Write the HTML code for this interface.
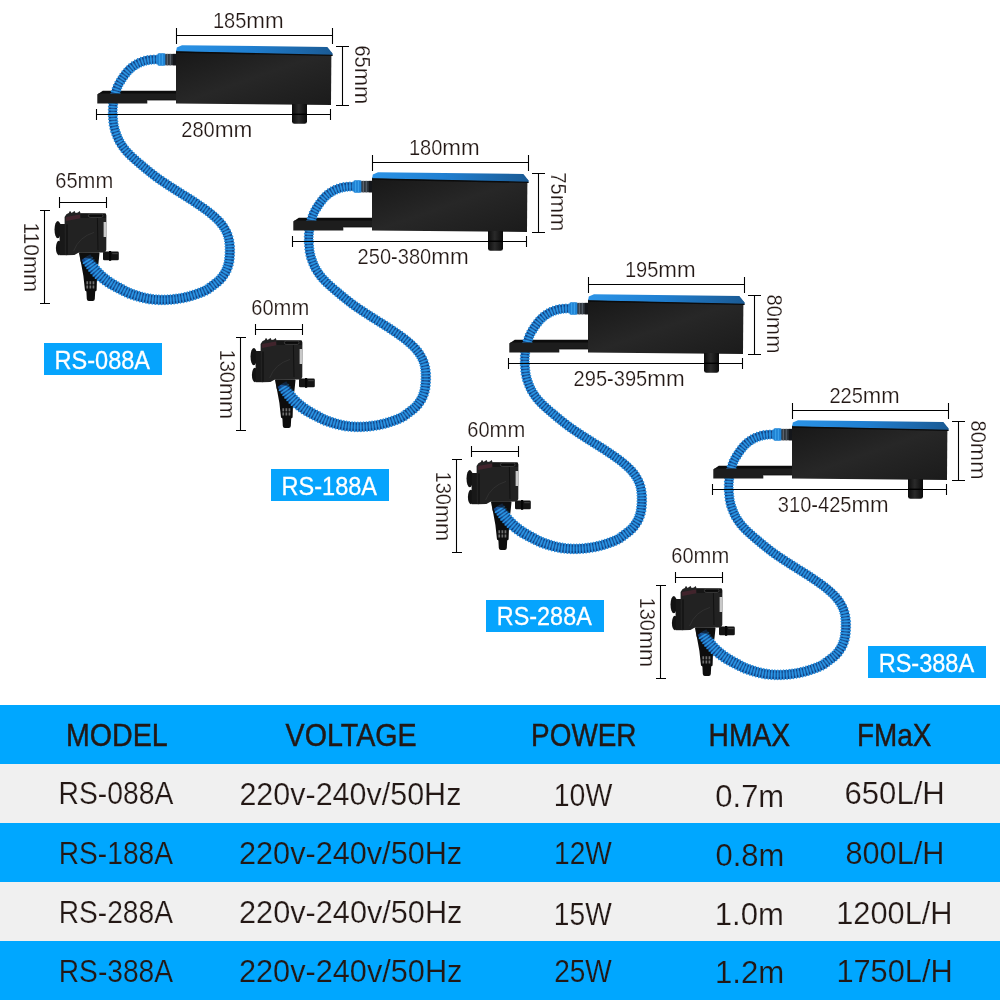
<!DOCTYPE html>
<html lang="en">
<head>
<meta charset="utf-8">
<title>RS series filter pump specifications</title>
<style>
html,body{margin:0;padding:0;background:#fff;}
body{width:1000px;height:1000px;position:relative;overflow:hidden;font-family:"Liberation Sans",sans-serif;color:#231815;}
#diagram{position:absolute;left:0;top:0;width:1000px;height:705px;display:block;will-change:transform;}
#diagram text{font-family:"Liberation Sans",sans-serif;fill:#231815;stroke:#fff;stroke-width:0.22px;}
.dim{stroke:#000;stroke-width:1.08;fill:none;}
.tag{will-change:transform;position:absolute;width:117.8px;height:31.5px;background:#06a4fd;color:#fff;-webkit-text-stroke:0.3px #fff;font-size:26.7px;line-height:31.5px;text-align:center;white-space:nowrap;}
.tag span,table.spec span{display:inline-block;}
table.spec{will-change:transform;position:absolute;left:0;top:705px;width:1000px;height:295px;border-collapse:collapse;border-spacing:0;table-layout:fixed;}
table.spec td,table.spec th{height:59px;padding:0;margin:0;text-align:center;vertical-align:middle;font-weight:normal;font-size:32px;line-height:59px;white-space:nowrap;overflow:visible;}
table.spec td:last-child,table.spec th:last-child{padding-right:11px;}
table.spec tr{background:#00a7ff;}
table.spec tr.alt{background:#f0f0f0;}
table.spec td{-webkit-text-stroke:0.2px #00a7ff;}
table.spec tr.alt td{-webkit-text-stroke:0.2px #f0f0f0;}
table.spec th{-webkit-text-stroke:0.45px #231815;}
</style>
</head>
<body>
<svg id="diagram" width="1000" height="705" viewBox="0 0 1000 705">

<defs>
  <linearGradient id="gTop" x1="0" y1="0" x2="1" y2="0">
    <stop offset="0" stop-color="#2b93e6"/><stop offset="0.45" stop-color="#2080d2"/><stop offset="1" stop-color="#1a5a94"/>
  </linearGradient>
  <linearGradient id="gBox" x1="0" y1="0" x2="1" y2="1">
    <stop offset="0" stop-color="#171717"/><stop offset="0.5" stop-color="#272727"/><stop offset="1" stop-color="#1b1b1b"/>
  </linearGradient>
  <linearGradient id="gOut" x1="0" y1="0" x2="1" y2="0">
    <stop offset="0" stop-color="#0c0c0c"/><stop offset="0.45" stop-color="#2a2a2a"/><stop offset="1" stop-color="#0a0a0a"/>
  </linearGradient>
  <g id="unit">
    <!-- strainer (behind hose) -->
    <path d="M79 253 L99.5 253 L98.6 262 L97.2 272 L96.6 290.6 L95.2 291.4 L94.8 299 Q94.6 300.9 92.8 300.9 L88.8 300.9 Q87 300.9 86.8 299 L86.4 291.4 L85 290.6 L83.4 276 L81.4 265 Z" fill="#0d0d0d"/>
    <path d="M86.4 281.2 h1.7 v7.4 h-1.7 Z M89.5 281.2 h1.7 v7.4 h-1.7 Z M92.6 281.2 h1.7 v7.4 h-1.7 Z" fill="#6f6f6f"/>
    <path d="M85.6 284.9 H96" stroke="#0d0d0d" stroke-width="1.1" fill="none"/>
    <!-- arm top face (behind hose) -->
    <path d="M97.3 94.6 L102.8 90.7 L177 90.7 L177 94 L97.3 94.6 Z" fill="#0c0c0c"/>
    <!-- hose -->
    <path d="M166.0 55.3 L165.0 55.3 L164.0 55.3 L163.1 55.3 L162.1 55.3 L161.1 55.3 L160.1 55.3 L159.1 55.2 L158.1 55.2 L157.0 55.2 L156.0 55.2 L154.9 55.2 L153.9 55.2 L152.8 55.3 L151.7 55.3 L150.6 55.4 L149.5 55.6 L148.3 55.7 L147.3 55.9 L146.2 56.1 L145.1 56.3 L144.0 56.6 L143.0 56.9 L141.9 57.2 L140.8 57.6 L139.8 58.0 L138.7 58.4 L137.7 58.8 L136.7 59.3 L135.7 59.8 L134.7 60.3 L133.7 60.9 L132.8 61.4 L131.8 62.1 L130.9 62.7 L130.0 63.4 L129.1 64.1 L128.2 64.8 L127.4 65.5 L126.6 66.3 L125.8 67.1 L125.0 67.8 L124.2 68.7 L123.5 69.5 L122.8 70.4 L122.2 71.2 L121.5 72.1 L120.9 72.9 L120.3 73.8 L119.7 74.6 L119.1 75.5 L118.5 76.4 L117.9 77.2 L117.4 78.1 L116.8 79.0 L116.3 79.9 L115.7 80.8 L115.2 81.7 L114.7 82.7 L114.2 83.7 L113.7 84.7 L113.2 85.9 L112.8 86.9 L112.4 87.9 L112.1 89.0 L111.8 90.1 L111.5 91.1 L111.2 92.1 L111.0 93.1 L110.7 94.1 L110.5 95.1 L110.3 96.1 L110.0 97.2 L109.8 98.2 L109.6 99.2 L109.5 100.2 L109.3 101.3 L109.1 102.3 L109.0 103.4 L108.9 104.4 L108.7 105.5 L108.7 106.6 L108.6 107.7 L108.5 108.8 L108.5 109.8 L108.5 110.9 L108.5 111.9 L108.5 113.0 L108.5 114.0 L108.5 115.1 L108.6 116.1 L108.6 117.1 L108.7 118.2 L108.8 119.2 L108.9 120.3 L109.0 121.3 L109.1 122.4 L109.2 123.4 L109.3 124.5 L109.5 125.5 L109.7 126.6 L109.9 127.7 L110.2 128.8 L110.4 129.8 L110.7 130.9 L111.0 132.0 L111.3 133.0 L111.7 134.0 L112.0 135.0 L112.4 136.0 L112.8 137.0 L113.2 137.9 L113.6 138.9 L114.0 139.9 L114.5 140.9 L114.9 141.9 L115.4 142.9 L116.0 143.8 L116.5 144.8 L117.1 145.7 L117.6 146.7 L118.2 147.5 L118.8 148.4 L119.4 149.3 L120.1 150.2 L120.7 151.0 L121.4 151.9 L122.1 152.7 L122.8 153.6 L123.5 154.4 L124.2 155.2 L124.9 155.9 L125.6 156.7 L126.4 157.4 L127.1 158.2 L127.9 158.9 L128.6 159.6 L129.4 160.3 L130.2 161.0 L130.9 161.7 L131.7 162.4 L132.5 163.1 L133.2 163.7 L134.0 164.4 L134.8 165.1 L135.5 165.7 L136.3 166.4 L137.1 167.0 L137.8 167.7 L138.6 168.3 L139.4 169.0 L140.1 169.6 L140.9 170.3 L141.7 170.9 L142.5 171.5 L143.2 172.2 L144.0 172.8 L144.8 173.5 L145.6 174.1 L146.4 174.7 L147.2 175.4 L148.0 176.0 L148.8 176.7 L149.6 177.3 L150.4 177.9 L151.2 178.5 L152.0 179.2 L152.8 179.8 L153.6 180.4 L154.4 181.0 L155.3 181.6 L156.1 182.2 L156.9 182.8 L157.8 183.4 L158.6 184.0 L159.5 184.5 L160.3 185.1 L161.1 185.7 L162.0 186.2 L162.8 186.8 L163.7 187.4 L164.5 187.9 L165.4 188.5 L166.2 189.0 L167.0 189.6 L167.9 190.1 L168.7 190.6 L169.6 191.2 L170.4 191.7 L171.2 192.3 L172.1 192.8 L172.9 193.4 L173.8 193.9 L174.6 194.5 L175.5 195.0 L176.3 195.6 L177.2 196.1 L178.1 196.6 L178.9 197.2 L179.8 197.7 L180.6 198.2 L181.5 198.7 L182.3 199.3 L183.2 199.8 L184.0 200.3 L184.8 200.8 L185.7 201.4 L186.5 201.9 L187.3 202.4 L188.2 202.9 L189.0 203.5 L189.8 204.0 L190.6 204.6 L191.5 205.1 L192.3 205.7 L193.1 206.2 L193.9 206.8 L194.8 207.3 L195.6 207.9 L196.4 208.4 L197.2 209.0 L198.0 209.6 L198.9 210.1 L199.7 210.7 L200.5 211.2 L201.3 211.8 L202.1 212.4 L202.9 212.9 L203.6 213.5 L204.4 214.1 L205.2 214.7 L205.9 215.2 L206.7 215.8 L207.5 216.4 L208.2 217.1 L209.0 217.7 L209.7 218.3 L210.4 218.9 L211.2 219.6 L211.9 220.2 L212.6 220.8 L213.3 221.5 L213.9 222.1 L214.6 222.8 L215.2 223.4 L215.9 224.1 L216.5 224.8 L217.1 225.5 L217.6 226.2 L218.2 226.9 L218.8 227.6 L219.3 228.3 L219.8 229.1 L220.3 229.8 L220.8 230.6 L221.3 231.3 L221.7 232.1 L222.1 232.9 L222.5 233.7 L222.9 234.5 L223.2 235.3 L223.5 236.1 L223.8 237.0 L224.1 237.7 L224.3 238.6 L224.5 239.4 L224.7 240.3 L224.8 241.2 L224.9 242.1 L225.0 243.0 L225.1 243.9 L225.2 244.8 L225.3 245.7 L225.3 246.6 L225.3 247.6 L225.3 248.5 L225.3 249.4 L225.3 250.4 L225.3 251.3 L225.3 252.2 L225.3 253.2 L225.2 254.1 L225.2 255.1 L225.1 256.0 L225.0 256.9 L224.9 257.9 L224.8 258.8 L224.7 259.7 L224.6 260.6 L224.4 261.4 L224.2 262.3 L224.1 263.2 L223.8 264.0 L223.6 264.8 L223.3 265.6 L223.0 266.4 L222.7 267.2 L222.4 268.0 L222.0 268.8 L221.6 269.5 L221.2 270.3 L220.7 271.1 L220.2 271.8 L219.7 272.6 L219.3 273.3 L218.7 274.0 L218.2 274.7 L217.6 275.4 L217.1 276.0 L216.6 276.6 L215.9 277.2 L215.3 277.7 L214.6 278.3 L214.0 278.8 L213.2 279.4 L212.5 280.0 L211.7 280.6 L210.9 281.2 L210.1 281.8 L209.2 282.4 L208.4 283.1 L207.5 283.7 L206.8 284.3 L206.1 284.9 L205.5 285.3 L204.8 285.7 L204.2 286.1 L203.4 286.4 L202.6 286.8 L201.8 287.2 L200.9 287.5 L200.1 287.9 L199.2 288.2 L198.3 288.6 L197.4 288.9 L196.5 289.2 L195.5 289.6 L194.6 289.9 L193.7 290.2 L192.8 290.5 L191.9 290.8 L191.0 291.1 L190.0 291.4 L189.1 291.7 L188.2 291.9 L187.3 292.2 L186.4 292.4 L185.5 292.6 L184.5 292.9 L183.6 293.1 L182.7 293.3 L181.7 293.5 L180.8 293.6 L179.9 293.8 L178.9 294.0 L178.0 294.1 L177.0 294.3 L176.1 294.4 L175.2 294.5 L174.2 294.6 L173.3 294.7 L172.3 294.8 L171.3 294.9 L170.4 295.0 L169.5 295.1 L168.5 295.1 L167.5 295.2 L166.6 295.2 L165.6 295.2 L164.6 295.3 L163.7 295.3 L162.7 295.3 L161.8 295.3 L160.8 295.3 L159.9 295.2 L158.9 295.2 L158.0 295.2 L157.0 295.1 L156.1 295.0 L155.2 295.0 L154.2 294.9 L153.3 294.8 L152.4 294.6 L151.4 294.5 L150.5 294.4 L149.6 294.2 L148.7 294.0 L147.8 293.9 L146.8 293.7 L145.9 293.5 L145.0 293.2 L144.1 293.0 L143.1 292.8 L142.2 292.5 L141.3 292.2 L140.4 292.0 L139.5 291.7 L138.5 291.4 L137.6 291.1 L136.7 290.8 L135.8 290.5 L134.9 290.2 L134.0 289.9 L133.1 289.6 L132.3 289.3 L131.4 288.9 L130.6 288.6 L129.8 288.2 L128.9 287.8 L128.1 287.4 L127.3 286.9 L126.5 286.5 L125.6 286.0 L124.7 285.5 L123.9 285.0 L122.9 284.5 L122.0 284.0 L121.2 283.6 L120.3 283.1 L119.4 282.7 L118.6 282.2 L117.8 281.7 L116.9 281.2 L116.1 280.8 L115.3 280.3 L114.5 279.8 L113.7 279.3 L112.9 278.8 L112.1 278.3 L111.4 277.8 L110.6 277.2 L109.9 276.7 L109.1 276.1 L108.4 275.6 L107.7 275.0 L107.0 274.4 L106.3 273.8 L105.5 273.2 L104.9 272.6 L104.2 271.9 L103.5 271.3 L102.8 270.7 L102.2 270.0 L101.5 269.4 L100.9 268.7 L100.2 268.0 L99.6 267.4 L99.0 266.7 L98.4 266.0 L97.9 265.3 L97.3 264.6 L96.7 263.8 L96.2 263.1 L95.6 262.3 L95.0 261.5 L94.5 260.7 L93.9 259.9 L93.3 259.1 L92.8 258.3 L92.3 257.6 L91.8 256.8 L91.3 256.0 L90.8 255.2 L90.3 254.3 L81.4 259.8 L81.9 260.6 L82.4 261.4 L83.0 262.3 L83.6 263.3 L84.2 264.2 L84.8 265.1 L85.4 265.9 L86.0 266.7 L86.6 267.6 L87.2 268.4 L87.8 269.2 L88.4 270.1 L89.1 270.9 L89.7 271.8 L90.4 272.6 L91.1 273.5 L91.8 274.3 L92.6 275.1 L93.3 275.9 L94.0 276.7 L94.8 277.4 L95.6 278.2 L96.3 278.9 L97.1 279.6 L97.9 280.4 L98.7 281.1 L99.6 281.8 L100.4 282.4 L101.2 283.1 L102.1 283.8 L102.9 284.4 L103.8 285.0 L104.7 285.6 L105.6 286.2 L106.5 286.8 L107.4 287.4 L108.3 288.0 L109.2 288.5 L110.1 289.0 L111.1 289.6 L112.0 290.1 L112.9 290.6 L113.8 291.0 L114.7 291.5 L115.7 292.0 L116.6 292.4 L117.5 292.9 L118.3 293.3 L119.2 293.8 L120.1 294.2 L121.0 294.7 L121.9 295.2 L122.8 295.6 L123.8 296.1 L124.7 296.6 L125.7 297.0 L126.7 297.4 L127.7 297.8 L128.8 298.2 L129.8 298.6 L130.8 299.0 L131.8 299.3 L132.8 299.6 L133.8 299.9 L134.8 300.2 L135.8 300.5 L136.8 300.8 L137.8 301.1 L138.8 301.4 L139.8 301.6 L140.8 301.9 L141.8 302.1 L142.8 302.4 L143.8 302.6 L144.9 302.8 L145.9 303.0 L147.0 303.2 L148.0 303.4 L149.1 303.6 L150.2 303.7 L151.2 303.8 L152.3 304.0 L153.3 304.1 L154.4 304.2 L155.4 304.2 L156.5 304.3 L157.5 304.3 L158.6 304.4 L159.6 304.4 L160.7 304.4 L161.7 304.4 L162.8 304.4 L163.8 304.4 L164.9 304.4 L165.9 304.4 L166.9 304.3 L168.0 304.3 L169.0 304.2 L170.0 304.1 L171.1 304.1 L172.1 304.0 L173.2 303.9 L174.2 303.8 L175.2 303.7 L176.3 303.6 L177.3 303.4 L178.4 303.3 L179.4 303.1 L180.4 303.0 L181.5 302.8 L182.5 302.6 L183.5 302.4 L184.6 302.2 L185.6 302.0 L186.6 301.7 L187.6 301.5 L188.6 301.2 L189.6 301.0 L190.7 300.7 L191.7 300.4 L192.7 300.1 L193.7 299.8 L194.7 299.5 L195.6 299.2 L196.6 298.8 L197.6 298.5 L198.6 298.2 L199.5 297.8 L200.5 297.5 L201.5 297.1 L202.4 296.7 L203.4 296.4 L204.4 296.0 L205.4 295.6 L206.4 295.1 L207.4 294.7 L208.5 294.1 L209.5 293.5 L210.5 292.9 L211.6 292.1 L212.5 291.4 L213.3 290.8 L214.0 290.2 L214.7 289.6 L215.5 289.1 L216.3 288.5 L217.1 287.9 L217.9 287.3 L218.8 286.7 L219.6 286.0 L220.5 285.3 L221.3 284.6 L222.2 283.8 L223.0 283.0 L223.8 282.2 L224.7 281.2 L225.4 280.3 L226.0 279.5 L226.7 278.6 L227.3 277.7 L227.9 276.7 L228.5 275.8 L229.1 274.8 L229.6 273.9 L230.1 272.8 L230.6 271.8 L231.1 270.8 L231.5 269.7 L231.9 268.6 L232.3 267.6 L232.6 266.4 L232.9 265.3 L233.2 264.2 L233.4 263.1 L233.6 262.1 L233.8 261.0 L233.9 259.9 L234.0 258.8 L234.1 257.8 L234.2 256.7 L234.3 255.7 L234.4 254.6 L234.4 253.5 L234.4 252.5 L234.5 251.4 L234.5 250.3 L234.4 249.3 L234.4 248.2 L234.3 247.1 L234.3 246.1 L234.2 245.0 L234.1 243.9 L233.9 242.9 L233.8 241.8 L233.6 240.7 L233.4 239.6 L233.1 238.5 L232.9 237.4 L232.6 236.4 L232.3 235.3 L231.9 234.2 L231.5 233.1 L231.1 232.1 L230.7 231.1 L230.2 230.0 L229.7 229.0 L229.2 228.0 L228.6 227.1 L228.1 226.1 L227.5 225.2 L226.9 224.2 L226.3 223.3 L225.6 222.5 L225.0 221.6 L224.3 220.8 L223.6 219.9 L222.9 219.1 L222.2 218.3 L221.4 217.5 L220.7 216.7 L219.9 216.0 L219.1 215.2 L218.4 214.5 L217.6 213.8 L216.8 213.1 L216.0 212.4 L215.2 211.8 L214.4 211.1 L213.6 210.4 L212.8 209.8 L212.0 209.1 L211.2 208.5 L210.4 207.9 L209.6 207.2 L208.7 206.6 L207.9 206.0 L207.1 205.4 L206.2 204.8 L205.4 204.2 L204.6 203.7 L203.7 203.1 L202.9 202.5 L202.1 201.9 L201.2 201.4 L200.4 200.8 L199.5 200.2 L198.7 199.7 L197.9 199.1 L197.0 198.6 L196.2 198.0 L195.4 197.4 L194.5 196.9 L193.7 196.3 L192.8 195.8 L192.0 195.2 L191.1 194.7 L190.2 194.1 L189.4 193.6 L188.5 193.1 L187.7 192.5 L186.8 192.0 L186.0 191.5 L185.1 190.9 L184.3 190.4 L183.4 189.9 L182.6 189.4 L181.7 188.8 L180.9 188.3 L180.1 187.8 L179.2 187.3 L178.4 186.7 L177.6 186.2 L176.7 185.6 L175.9 185.1 L175.1 184.6 L174.2 184.0 L173.4 183.5 L172.5 182.9 L171.7 182.4 L170.9 181.8 L170.0 181.3 L169.2 180.8 L168.4 180.2 L167.6 179.7 L166.7 179.1 L165.9 178.6 L165.1 178.0 L164.3 177.5 L163.5 176.9 L162.7 176.4 L161.9 175.8 L161.1 175.2 L160.3 174.7 L159.5 174.1 L158.7 173.5 L157.9 172.9 L157.2 172.3 L156.4 171.8 L155.6 171.1 L154.8 170.5 L154.1 169.9 L153.3 169.3 L152.5 168.7 L151.8 168.1 L151.0 167.5 L150.2 166.9 L149.5 166.2 L148.7 165.6 L147.9 165.0 L147.2 164.3 L146.4 163.7 L145.6 163.0 L144.9 162.4 L144.1 161.8 L143.4 161.1 L142.6 160.5 L141.8 159.9 L141.1 159.2 L140.3 158.6 L139.6 157.9 L138.8 157.3 L138.1 156.6 L137.4 156.0 L136.6 155.3 L135.9 154.7 L135.2 154.0 L134.5 153.4 L133.8 152.7 L133.1 152.1 L132.4 151.4 L131.8 150.7 L131.1 150.0 L130.5 149.3 L129.8 148.7 L129.2 148.0 L128.6 147.3 L128.1 146.6 L127.5 145.8 L126.9 145.1 L126.4 144.3 L125.9 143.6 L125.4 142.8 L124.8 142.0 L124.3 141.3 L123.9 140.5 L123.4 139.7 L123.0 138.9 L122.6 138.1 L122.2 137.3 L121.8 136.4 L121.5 135.6 L121.1 134.8 L120.8 133.9 L120.4 133.0 L120.1 132.1 L119.8 131.2 L119.5 130.3 L119.2 129.4 L118.9 128.6 L118.7 127.7 L118.5 126.8 L118.3 125.9 L118.1 125.1 L118.0 124.2 L117.8 123.3 L117.7 122.4 L117.6 121.4 L117.5 120.5 L117.4 119.5 L117.3 118.6 L117.2 117.6 L117.2 116.7 L117.1 115.7 L117.1 114.8 L117.1 113.8 L117.0 112.8 L117.0 111.9 L117.0 111.0 L117.1 110.0 L117.1 109.1 L117.1 108.1 L117.2 107.2 L117.3 106.3 L117.4 105.4 L117.5 104.5 L117.6 103.5 L117.7 102.6 L117.9 101.7 L118.1 100.8 L118.2 99.8 L118.4 98.9 L118.6 98.0 L118.8 97.0 L119.0 96.1 L119.3 95.2 L119.5 94.2 L119.8 93.3 L120.0 92.4 L120.3 91.5 L120.5 90.7 L120.8 89.8 L121.2 89.0 L121.5 88.3 L121.8 87.5 L122.2 86.7 L122.7 85.9 L123.1 85.1 L123.6 84.3 L124.1 83.5 L124.6 82.7 L125.1 81.9 L125.6 81.1 L126.2 80.3 L126.7 79.5 L127.2 78.7 L127.8 78.0 L128.4 77.2 L128.9 76.5 L129.5 75.7 L130.1 75.0 L130.7 74.4 L131.2 73.7 L131.9 73.1 L132.5 72.4 L133.1 71.9 L133.8 71.3 L134.5 70.7 L135.2 70.2 L135.9 69.7 L136.6 69.1 L137.3 68.7 L138.1 68.2 L138.8 67.8 L139.6 67.4 L140.4 67.0 L141.2 66.6 L142.0 66.3 L142.8 65.9 L143.6 65.7 L144.5 65.4 L145.3 65.1 L146.2 64.9 L147.0 64.7 L147.9 64.5 L148.8 64.3 L149.7 64.2 L150.5 64.0 L151.4 63.9 L152.3 63.9 L153.2 63.8 L154.1 63.8 L155.1 63.8 L156.0 63.8 L157.0 63.8 L157.9 63.8 L158.9 63.8 L159.9 63.8 L160.9 63.8 L161.9 63.8 L162.9 63.9 L164.0 63.9 L165.0 63.9 L166.0 63.9Z" fill="#124284"/>
    <path d="M163.1 55.3 L162.9 63.8M160.1 55.3 L159.9 63.8M157.0 55.2 L157.0 63.7M153.9 55.3 L154.1 63.8M150.6 55.5 L151.4 63.9M147.3 55.9 L148.8 64.3M144.0 56.6 L146.2 64.9M140.8 57.6 L143.6 65.6M137.7 58.8 L141.2 66.6M134.7 60.3 L138.8 67.8M131.8 62.1 L136.6 69.1M129.1 64.1 L134.4 70.7M126.6 66.3 L132.5 72.4M124.3 68.7 L130.6 74.3M122.2 71.2 L128.9 76.4M120.3 73.8 L127.2 78.7M118.5 76.4 L125.6 81.1M116.8 79.0 L124.1 83.5M115.2 81.8 L122.6 85.9M113.7 84.8 L121.4 88.3M112.5 88.0 L120.5 90.7M111.5 91.1 L119.7 93.3M110.8 94.1 L119.0 96.1M110.1 97.2 L118.4 98.9M109.5 100.2 L117.9 101.7M109.0 103.4 L117.4 104.5M108.7 106.6 L117.2 107.2M108.5 109.8 L117.0 110.0M108.5 113.0 L117.0 112.8M108.6 116.1 L117.1 115.7M108.8 119.2 L117.3 118.6M109.1 122.4 L117.6 121.4M109.5 125.5 L117.9 124.2M110.2 128.8 L118.5 126.8M111.0 131.9 L119.2 129.5M112.1 135.0 L120.1 132.1M113.2 137.9 L121.1 134.8M114.5 140.9 L122.2 137.3M116.0 143.8 L123.4 139.7M117.7 146.6 L124.8 142.0M119.5 149.3 L126.4 144.4M121.4 151.9 L128.0 146.6M123.5 154.3 L129.8 148.7M125.7 156.7 L131.8 150.7M127.9 158.9 L133.8 152.7M130.2 161.0 L135.9 154.7M132.5 163.0 L138.1 156.7M134.8 165.0 L140.3 158.6M137.1 167.0 L142.6 160.5M139.4 168.9 L144.9 162.4M141.7 170.9 L147.1 164.3M144.0 172.8 L149.4 166.2M146.4 174.7 L151.7 168.1M148.8 176.6 L154.0 170.0M151.2 178.5 L156.4 171.8M153.6 180.4 L158.7 173.5M156.1 182.2 L161.1 175.3M158.6 183.9 L163.5 176.9M161.2 185.6 L165.9 178.6M163.7 187.3 L168.4 180.2M166.2 189.0 L170.9 181.9M168.7 190.6 L173.4 183.5M171.3 192.3 L175.9 185.1M173.8 193.9 L178.4 186.7M176.4 195.5 L180.9 188.3M178.9 197.1 L183.4 189.9M181.5 198.7 L186.0 191.5M184.0 200.3 L188.5 193.1M186.5 201.9 L191.1 194.7M189.0 203.5 L193.7 196.3M191.5 205.1 L196.2 198.0M194.0 206.8 L198.7 199.7M196.4 208.4 L201.2 201.4M198.9 210.1 L203.7 203.1M201.3 211.8 L206.2 204.8M203.7 213.5 L208.7 206.6M206.0 215.2 L211.2 208.5M208.2 217.0 L213.6 210.5M210.4 218.9 L216.0 212.5M212.6 220.8 L218.3 214.5M214.6 222.7 L220.6 216.8M216.5 224.7 L222.9 219.1M218.2 226.9 L224.9 221.6M219.9 229.1 L226.8 224.3M221.3 231.3 L228.6 227.1M222.5 233.6 L230.2 230.1M223.6 236.1 L231.5 233.1M224.3 238.6 L232.6 236.4M224.8 241.2 L233.4 239.6M225.1 243.9 L233.9 242.9M225.3 246.6 L234.3 246.1M225.4 249.4 L234.4 249.3M225.3 252.2 L234.4 252.5M225.2 255.1 L234.3 255.7M224.9 257.9 L234.0 258.8M224.6 260.6 L233.6 262.1M224.1 263.2 L232.9 265.3M223.3 265.6 L231.9 268.6M222.4 268.0 L230.6 271.8M221.2 270.3 L229.1 274.8M219.8 272.6 L227.3 277.6M218.2 274.7 L225.4 280.3M216.6 276.6 L223.0 283.0M214.7 278.3 L220.5 285.3M212.5 280.0 L217.9 287.3M210.1 281.8 L215.5 289.1M207.5 283.7 L213.3 290.8M205.5 285.3 L210.5 292.9M203.4 286.5 L207.4 294.7M200.9 287.5 L204.4 296.0M198.3 288.6 L201.5 297.1M195.5 289.6 L198.6 298.2M192.8 290.5 L195.6 299.2M190.0 291.4 L192.7 300.1M187.3 292.2 L189.6 301.0M184.5 292.9 L186.6 301.7M181.7 293.5 L183.5 302.4M178.9 294.0 L180.4 302.9M176.1 294.4 L177.3 303.4M173.3 294.7 L174.2 303.8M170.4 295.0 L171.1 304.1M167.5 295.2 L168.0 304.3M164.6 295.3 L164.9 304.4M161.8 295.3 L161.7 304.4M158.9 295.2 L158.6 304.4M156.1 295.0 L155.4 304.2M153.3 294.8 L152.3 304.0M150.5 294.4 L149.1 303.6M147.8 293.9 L145.9 303.0M145.0 293.2 L142.8 302.4M142.2 292.5 L139.8 301.6M139.5 291.7 L136.8 300.8M136.7 290.8 L133.8 299.9M134.0 289.9 L130.8 299.0M131.4 288.9 L127.7 297.9M128.9 287.8 L124.7 296.6M126.5 286.5 L121.9 295.2M123.9 285.0 L119.2 293.8M121.2 283.6 L116.5 292.5M118.6 282.2 L113.8 291.1M116.1 280.7 L111.1 289.6M113.7 279.3 L108.3 288.0M111.4 277.7 L105.6 286.3M109.2 276.1 L102.9 284.4M107.0 274.4 L100.4 282.5M104.9 272.5 L97.9 280.4M102.8 270.7 L95.5 278.2M100.9 268.7 L93.3 275.9M99.0 266.6 L91.1 273.5M97.3 264.5 L89.0 271.0M95.6 262.3 L87.1 268.4M93.9 259.9 L85.3 265.9M92.3 257.6 L83.5 263.3" fill="none" stroke="#2690e0" stroke-width="1.65" stroke-linecap="round"/>
    <path d="M166.0 57.7 L165.0 57.7 L164.0 57.7 L163.0 57.7 L162.0 57.6 L161.0 57.6 L160.0 57.6 L159.0 57.6 L158.0 57.6 L157.0 57.5 L156.0 57.5 L155.0 57.6 L154.0 57.6 L152.9 57.6 L151.9 57.7 L150.8 57.8 L149.8 57.9 L148.7 58.0 L147.7 58.2 L146.7 58.4 L145.7 58.6 L144.6 58.9 L143.6 59.2 L142.6 59.5 L141.6 59.8 L140.6 60.2 L139.6 60.5 L138.7 61.0 L137.7 61.4 L136.8 61.9 L135.8 62.3 L134.9 62.9 L134.0 63.4 L133.1 64.0 L132.3 64.6 L131.4 65.2 L130.6 65.9 L129.8 66.6 L129.0 67.3 L128.2 68.0 L127.5 68.7 L126.7 69.5 L126.0 70.3 L125.3 71.0 L124.7 71.8 L124.0 72.7 L123.4 73.5 L122.8 74.3 L122.2 75.1 L121.6 76.0 L121.0 76.8 L120.4 77.7 L119.9 78.5 L119.3 79.4 L118.8 80.2 L118.3 81.1 L117.8 82.0 L117.2 82.9 L116.7 83.8 L116.3 84.8 L115.8 85.7 L115.4 86.7 L115.0 87.7 L114.7 88.7 L114.3 89.7 L114.0 90.7 L113.8 91.7 L113.5 92.7 L113.3 93.6 L113.0 94.6 L112.8 95.6 L112.6 96.6 L112.3 97.6 L112.1 98.6 L111.9 99.6 L111.8 100.6 L111.6 101.7 L111.4 102.7 L111.3 103.7 L111.2 104.7 L111.1 105.7 L111.0 106.8 L110.9 107.8 L110.9 108.8 L110.8 109.9 L110.8 110.9 L110.8 111.9 L110.8 112.9 L110.9 114.0 L110.9 115.0 L110.9 116.0 L111.0 117.0 L111.0 118.0 L111.1 119.1 L111.2 120.1 L111.3 121.1 L111.4 122.1 L111.5 123.1 L111.7 124.1 L111.8 125.2 L112.0 126.2 L112.2 127.2 L112.4 128.2 L112.7 129.3 L113.0 130.3 L113.3 131.3 L113.6 132.3 L113.9 133.2 L114.3 134.2 L114.6 135.2 L115.0 136.1 L115.3 137.1 L115.7 138.0 L116.1 139.0 L116.6 139.9 L117.0 140.9 L117.5 141.8 L118.0 142.7 L118.5 143.6 L119.1 144.5 L119.6 145.4 L120.2 146.2 L120.8 147.1 L121.3 147.9 L122.0 148.8 L122.6 149.6 L123.2 150.4 L123.9 151.2 L124.5 152.0 L125.2 152.8 L125.9 153.6 L126.6 154.3 L127.3 155.0 L128.0 155.8 L128.8 156.5 L129.5 157.2 L130.2 157.9 L131.0 158.6 L131.7 159.3 L132.5 160.0 L133.2 160.6 L134.0 161.3 L134.8 162.0 L135.5 162.6 L136.3 163.3 L137.1 163.9 L137.8 164.6 L138.6 165.2 L139.3 165.9 L140.1 166.5 L140.9 167.2 L141.7 167.8 L142.4 168.5 L143.2 169.1 L144.0 169.7 L144.7 170.4 L145.5 171.0 L146.3 171.7 L147.1 172.3 L147.8 172.9 L148.6 173.6 L149.4 174.2 L150.2 174.8 L151.0 175.4 L151.8 176.1 L152.6 176.7 L153.4 177.3 L154.2 177.9 L155.0 178.5 L155.8 179.1 L156.6 179.7 L157.5 180.3 L158.3 180.9 L159.1 181.4 L160.0 182.0 L160.8 182.6 L161.6 183.2 L162.5 183.7 L163.3 184.3 L164.1 184.8 L165.0 185.4 L165.8 185.9 L166.6 186.5 L167.5 187.0 L168.3 187.6 L169.2 188.1 L170.0 188.7 L170.8 189.2 L171.7 189.8 L172.5 190.3 L173.4 190.9 L174.2 191.4 L175.0 191.9 L175.9 192.5 L176.7 193.0 L177.6 193.6 L178.4 194.1 L179.3 194.6 L180.1 195.2 L181.0 195.7 L181.8 196.2 L182.7 196.7 L183.5 197.3 L184.4 197.8 L185.2 198.3 L186.1 198.8 L186.9 199.4 L187.8 199.9 L188.6 200.4 L189.4 201.0 L190.3 201.5 L191.1 202.1 L191.9 202.6 L192.8 203.2 L193.6 203.7 L194.4 204.3 L195.2 204.8 L196.1 205.4 L196.9 205.9 L197.7 206.5 L198.5 207.1 L199.4 207.6 L200.2 208.2 L201.0 208.7 L201.8 209.3 L202.6 209.9 L203.4 210.5 L204.2 211.0 L205.0 211.6 L205.8 212.2 L206.6 212.8 L207.4 213.4 L208.2 214.0 L208.9 214.6 L209.7 215.2 L210.5 215.9 L211.2 216.5 L212.0 217.1 L212.7 217.8 L213.4 218.4 L214.2 219.1 L214.9 219.8 L215.6 220.4 L216.3 221.1 L216.9 221.8 L217.6 222.5 L218.2 223.2 L218.9 223.9 L219.5 224.7 L220.1 225.4 L220.6 226.2 L221.2 227.0 L221.8 227.8 L222.3 228.5 L222.8 229.3 L223.3 230.2 L223.8 231.0 L224.2 231.8 L224.6 232.7 L225.0 233.5 L225.4 234.4 L225.7 235.3 L226.0 236.2 L226.3 237.1 L226.6 238.0 L226.8 238.9 L227.0 239.8 L227.2 240.8 L227.3 241.7 L227.4 242.7 L227.5 243.6 L227.6 244.6 L227.7 245.5 L227.8 246.5 L227.8 247.5 L227.8 248.4 L227.8 249.4 L227.8 250.4 L227.8 251.3 L227.8 252.3 L227.8 253.3 L227.7 254.2 L227.7 255.2 L227.6 256.2 L227.5 257.1 L227.4 258.1 L227.3 259.1 L227.2 260.0 L227.0 261.0 L226.9 261.9 L226.7 262.8 L226.5 263.8 L226.2 264.7 L226.0 265.6 L225.7 266.4 L225.4 267.3 L225.0 268.2 L224.6 269.0 L224.2 269.9 L223.8 270.7 L223.3 271.5 L222.8 272.4 L222.3 273.2 L221.8 274.0 L221.3 274.7 L220.7 275.5 L220.1 276.3 L219.6 277.0 L219.0 277.7 L218.3 278.3 L217.7 279.0 L217.0 279.6 L216.2 280.2 L215.5 280.8 L214.7 281.4 L214.0 282.0 L213.2 282.6 L212.4 283.2 L211.6 283.8 L210.7 284.4 L209.9 285.0 L209.1 285.7 L208.3 286.3 L207.6 286.9 L206.9 287.4 L206.1 287.8 L205.3 288.3 L204.5 288.7 L203.7 289.1 L202.8 289.5 L201.9 289.9 L201.0 290.2 L200.1 290.6 L199.2 290.9 L198.2 291.3 L197.3 291.6 L196.4 291.9 L195.4 292.3 L194.5 292.6 L193.6 292.9 L192.6 293.2 L191.7 293.5 L190.8 293.8 L189.8 294.1 L188.9 294.3 L187.9 294.6 L187.0 294.8 L186.0 295.1 L185.1 295.3 L184.1 295.5 L183.2 295.7 L182.2 295.9 L181.3 296.1 L180.3 296.3 L179.3 296.4 L178.4 296.6 L177.4 296.7 L176.4 296.9 L175.5 297.0 L174.5 297.1 L173.5 297.2 L172.5 297.3 L171.6 297.4 L170.6 297.5 L169.6 297.5 L168.6 297.6 L167.6 297.7 L166.7 297.7 L165.7 297.7 L164.7 297.8 L163.7 297.8 L162.7 297.8 L161.8 297.8 L160.8 297.8 L159.8 297.7 L158.8 297.7 L157.9 297.7 L156.9 297.6 L155.9 297.6 L154.9 297.5 L154.0 297.4 L153.0 297.3 L152.0 297.2 L151.1 297.0 L150.1 296.9 L149.2 296.7 L148.2 296.6 L147.3 296.4 L146.3 296.2 L145.4 296.0 L144.4 295.7 L143.4 295.5 L142.5 295.3 L141.6 295.0 L140.6 294.7 L139.7 294.5 L138.7 294.2 L137.8 293.9 L136.8 293.6 L135.9 293.3 L135.0 293.0 L134.0 292.7 L133.1 292.4 L132.2 292.1 L131.3 291.7 L130.4 291.4 L129.5 291.0 L128.7 290.6 L127.8 290.2 L126.9 289.8 L126.1 289.3 L125.2 288.9 L124.3 288.4 L123.5 287.9 L122.6 287.4 L121.7 286.9 L120.8 286.5 L119.9 286.0 L119.0 285.5 L118.2 285.1 L117.3 284.6 L116.4 284.1 L115.6 283.7 L114.7 283.2 L113.9 282.7 L113.0 282.2 L112.2 281.7 L111.4 281.2 L110.6 280.6 L109.8 280.1 L109.0 279.5 L108.2 279.0 L107.4 278.4 L106.7 277.8 L105.9 277.2 L105.2 276.6 L104.4 276.0 L103.7 275.3 L103.0 274.7 L102.2 274.1 L101.5 273.4 L100.8 272.7 L100.1 272.1 L99.5 271.4 L98.8 270.7 L98.1 270.0 L97.5 269.3 L96.8 268.5 L96.2 267.8 L95.6 267.1 L95.0 266.3 L94.4 265.5 L93.9 264.8 L93.3 264.0 L92.7 263.2 L92.1 262.4 L91.6 261.6 L91.0 260.7 L90.4 259.9 L89.9 259.1 L89.4 258.3 L88.9 257.5 L88.4 256.7 L87.8 255.8 L83.8 258.3 L84.3 259.1 L84.9 260.0 L85.4 260.8 L86.0 261.7 L86.5 262.6 L87.1 263.4 L87.7 264.3 L88.3 265.1 L88.9 265.9 L89.5 266.7 L90.1 267.6 L90.7 268.4 L91.3 269.2 L92.0 270.0 L92.6 270.8 L93.3 271.6 L94.0 272.4 L94.7 273.2 L95.4 273.9 L96.1 274.7 L96.8 275.4 L97.6 276.1 L98.3 276.8 L99.1 277.5 L99.8 278.2 L100.6 278.9 L101.4 279.6 L102.2 280.2 L103.0 280.9 L103.8 281.5 L104.6 282.1 L105.5 282.7 L106.3 283.3 L107.2 283.9 L108.0 284.5 L108.9 285.0 L109.8 285.6 L110.7 286.1 L111.6 286.6 L112.4 287.2 L113.3 287.6 L114.2 288.1 L115.1 288.6 L116.0 289.1 L116.9 289.6 L117.8 290.0 L118.7 290.5 L119.6 290.9 L120.5 291.4 L121.3 291.8 L122.2 292.3 L123.1 292.8 L124.0 293.2 L125.0 293.7 L125.9 294.1 L126.8 294.6 L127.8 295.0 L128.8 295.4 L129.7 295.8 L130.7 296.1 L131.7 296.5 L132.7 296.8 L133.6 297.1 L134.6 297.4 L135.6 297.7 L136.5 298.0 L137.5 298.3 L138.5 298.6 L139.5 298.9 L140.5 299.1 L141.4 299.4 L142.4 299.6 L143.4 299.9 L144.4 300.1 L145.4 300.3 L146.4 300.5 L147.4 300.7 L148.5 300.9 L149.5 301.0 L150.5 301.2 L151.5 301.3 L152.5 301.4 L153.6 301.5 L154.6 301.6 L155.6 301.7 L156.6 301.8 L157.6 301.8 L158.7 301.9 L159.7 301.9 L160.7 301.9 L161.7 301.9 L162.8 301.9 L163.8 301.9 L164.8 301.9 L165.8 301.9 L166.8 301.8 L167.8 301.8 L168.9 301.7 L169.9 301.7 L170.9 301.6 L171.9 301.5 L172.9 301.4 L173.9 301.3 L175.0 301.2 L176.0 301.1 L177.0 300.9 L178.0 300.8 L179.0 300.7 L180.0 300.5 L181.0 300.3 L182.0 300.1 L183.0 299.9 L184.0 299.7 L185.0 299.5 L186.0 299.3 L187.0 299.1 L188.0 298.8 L189.0 298.6 L190.0 298.3 L191.0 298.0 L191.9 297.7 L192.9 297.4 L193.9 297.1 L194.9 296.8 L195.8 296.5 L196.8 296.2 L197.7 295.8 L198.7 295.5 L199.6 295.1 L200.6 294.8 L201.5 294.4 L202.5 294.0 L203.4 293.7 L204.4 293.3 L205.4 292.9 L206.3 292.4 L207.3 291.9 L208.2 291.4 L209.2 290.8 L210.1 290.1 L210.9 289.5 L211.7 288.9 L212.5 288.2 L213.2 287.7 L214.0 287.1 L214.8 286.5 L215.6 285.9 L216.4 285.3 L217.2 284.7 L218.1 284.0 L218.9 283.4 L219.7 282.7 L220.5 282.0 L221.2 281.2 L222.0 280.5 L222.7 279.6 L223.4 278.8 L224.0 278.0 L224.6 277.1 L225.2 276.3 L225.8 275.4 L226.4 274.5 L226.9 273.6 L227.4 272.7 L227.9 271.7 L228.4 270.8 L228.8 269.8 L229.2 268.8 L229.6 267.8 L229.9 266.8 L230.2 265.8 L230.5 264.7 L230.7 263.7 L230.9 262.7 L231.1 261.7 L231.3 260.6 L231.4 259.6 L231.5 258.6 L231.6 257.5 L231.7 256.5 L231.8 255.5 L231.9 254.5 L231.9 253.4 L231.9 252.4 L232.0 251.4 L232.0 250.3 L231.9 249.3 L231.9 248.3 L231.9 247.3 L231.8 246.2 L231.7 245.2 L231.6 244.2 L231.5 243.1 L231.4 242.1 L231.2 241.1 L231.0 240.0 L230.8 239.0 L230.6 238.0 L230.3 237.0 L230.0 236.0 L229.7 234.9 L229.3 233.9 L228.9 233.0 L228.5 232.0 L228.1 231.0 L227.6 230.1 L227.1 229.1 L226.6 228.2 L226.1 227.3 L225.5 226.5 L224.9 225.6 L224.4 224.7 L223.7 223.9 L223.1 223.1 L222.5 222.2 L221.8 221.4 L221.1 220.7 L220.4 219.9 L219.7 219.1 L219.0 218.4 L218.3 217.7 L217.5 216.9 L216.8 216.2 L216.0 215.6 L215.2 214.9 L214.5 214.2 L213.7 213.6 L212.9 212.9 L212.1 212.3 L211.4 211.6 L210.6 211.0 L209.8 210.3 L209.0 209.7 L208.1 209.1 L207.3 208.5 L206.5 207.9 L205.7 207.3 L204.9 206.7 L204.0 206.2 L203.2 205.6 L202.4 205.0 L201.6 204.4 L200.7 203.9 L199.9 203.3 L199.1 202.7 L198.2 202.2 L197.4 201.6 L196.6 201.1 L195.7 200.5 L194.9 199.9 L194.1 199.4 L193.2 198.8 L192.4 198.3 L191.5 197.7 L190.7 197.2 L189.8 196.6 L189.0 196.1 L188.1 195.6 L187.3 195.0 L186.4 194.5 L185.6 194.0 L184.7 193.5 L183.9 192.9 L183.0 192.4 L182.2 191.9 L181.3 191.4 L180.5 190.8 L179.7 190.3 L178.8 189.8 L178.0 189.2 L177.1 188.7 L176.3 188.2 L175.5 187.6 L174.6 187.1 L173.8 186.5 L172.9 186.0 L172.1 185.4 L171.3 184.9 L170.4 184.4 L169.6 183.8 L168.8 183.3 L167.9 182.7 L167.1 182.2 L166.3 181.6 L165.4 181.1 L164.6 180.5 L163.8 180.0 L163.0 179.4 L162.1 178.8 L161.3 178.3 L160.5 177.7 L159.7 177.1 L158.9 176.6 L158.1 176.0 L157.3 175.4 L156.5 174.8 L155.7 174.2 L154.9 173.6 L154.2 173.0 L153.4 172.4 L152.6 171.8 L151.8 171.2 L151.0 170.5 L150.3 169.9 L149.5 169.3 L148.7 168.7 L148.0 168.0 L147.2 167.4 L146.4 166.8 L145.7 166.1 L144.9 165.5 L144.1 164.8 L143.4 164.2 L142.6 163.6 L141.8 162.9 L141.1 162.3 L140.3 161.6 L139.6 161.0 L138.8 160.3 L138.1 159.7 L137.3 159.0 L136.6 158.4 L135.8 157.7 L135.1 157.1 L134.3 156.4 L133.6 155.8 L132.9 155.1 L132.2 154.4 L131.5 153.7 L130.8 153.0 L130.1 152.4 L129.4 151.6 L128.7 150.9 L128.1 150.2 L127.5 149.5 L126.8 148.8 L126.2 148.0 L125.6 147.3 L125.1 146.5 L124.5 145.7 L123.9 144.9 L123.4 144.1 L122.9 143.3 L122.4 142.5 L121.9 141.7 L121.4 140.8 L120.9 140.0 L120.5 139.1 L120.1 138.3 L119.7 137.4 L119.3 136.5 L118.9 135.6 L118.6 134.7 L118.2 133.8 L117.9 132.9 L117.6 132.0 L117.2 131.0 L117.0 130.1 L116.7 129.2 L116.4 128.3 L116.2 127.4 L116.0 126.4 L115.8 125.5 L115.6 124.6 L115.5 123.6 L115.4 122.6 L115.3 121.7 L115.1 120.7 L115.1 119.7 L115.0 118.8 L114.9 117.8 L114.8 116.8 L114.8 115.8 L114.7 114.8 L114.7 113.9 L114.7 112.9 L114.7 111.9 L114.7 110.9 L114.7 110.0 L114.7 109.0 L114.8 108.0 L114.8 107.1 L114.9 106.1 L115.0 105.1 L115.1 104.2 L115.3 103.2 L115.4 102.3 L115.6 101.3 L115.7 100.3 L115.9 99.4 L116.1 98.4 L116.3 97.5 L116.5 96.5 L116.8 95.5 L117.0 94.6 L117.2 93.6 L117.5 92.7 L117.8 91.8 L118.0 90.8 L118.3 89.9 L118.6 89.0 L119.0 88.1 L119.3 87.3 L119.7 86.5 L120.2 85.6 L120.6 84.8 L121.1 83.9 L121.6 83.1 L122.1 82.3 L122.6 81.4 L123.1 80.6 L123.7 79.8 L124.2 79.0 L124.8 78.2 L125.3 77.4 L125.9 76.6 L126.5 75.8 L127.1 75.0 L127.7 74.3 L128.3 73.5 L128.9 72.8 L129.5 72.1 L130.2 71.4 L130.9 70.8 L131.6 70.1 L132.3 69.5 L133.0 68.9 L133.7 68.3 L134.5 67.7 L135.3 67.2 L136.1 66.7 L136.9 66.2 L137.7 65.7 L138.5 65.3 L139.4 64.9 L140.2 64.5 L141.1 64.1 L142.0 63.8 L142.9 63.4 L143.8 63.1 L144.7 62.9 L145.6 62.6 L146.5 62.4 L147.4 62.2 L148.4 62.0 L149.3 61.9 L150.3 61.7 L151.2 61.6 L152.1 61.5 L153.1 61.5 L154.0 61.4 L155.0 61.4 L156.0 61.4 L157.0 61.4 L158.0 61.4 L159.0 61.4 L160.0 61.5 L161.0 61.5 L162.0 61.5 L163.0 61.5 L164.0 61.5 L165.0 61.5 L166.0 61.5Z" fill="#3ba8f4" fill-opacity="0.22"/>
    <!-- hose collar + connector -->
    <rect x="157.3" y="53.3" width="8.6" height="12.4" rx="1.6" fill="#2083d4"/>
    <path d="M159.6 53.6 V65.4 M162.4 53.6 V65.4" stroke="#3aa0ea" stroke-width="1.1" fill="none"/>
    <rect x="165.4" y="53.9" width="11" height="11.4" fill="#2b3138"/>
    <rect x="166.6" y="53.9" width="1.5" height="11.4" fill="#5a636e"/>
    <rect x="169.6" y="53.9" width="1.5" height="11.4" fill="#515a64"/>
    <rect x="172.8" y="53.9" width="3.6" height="11.4" fill="#14161a"/>
    <!-- arm (front face, in front of hose) -->
    <path d="M97.3 94.6 L98.6 93.6 L177 93.6 L177 100 L147.3 100 L147.3 103.4 L97.3 103.4 Z" fill="#1d1d1d"/>
    <path d="M147.3 100 H177" stroke="#0c0c0c" stroke-width="0.8" fill="none"/>
    <!-- box -->
    <path d="M176 50.5 L331.4 52 L331 104.9 L176 103.6 Z" fill="url(#gBox)"/>
    <path d="M176.1 51.6 L176.8 47.4 L182 45.2 L327.4 47 L332.6 53.4 L332.6 55.2 Z" fill="url(#gTop)"/>
    <path d="M176 52 L332.6 55.4" stroke="#0b0b0b" stroke-width="1.3" fill="none"/>
    <!-- outlet -->
    <path d="M292 104 H307 V121.5 Q307 123.8 304.5 123.8 H294.5 Q292 123.8 292 121.5 Z" fill="url(#gOut)"/>
    <path d="M292 114 H307" stroke="#000" stroke-width="0.8"/>
    <!-- pump -->
    <g>
      <path d="M79.5 252 L99 252 L98.4 259 L96 263.5 L92 259 L84 257.5 L80.4 262 Z" fill="#101010" fill-opacity="0.62"/>
      <ellipse cx="57.8" cy="229.6" rx="3.3" ry="8.6" fill="#121212"/>
      <ellipse cx="58.8" cy="248" rx="2.9" ry="7.2" fill="#121212"/>
      <rect x="59.6" y="224" width="7" height="31.2" fill="#181818"/>
      <rect x="103" y="251.6" width="15.8" height="8.6" rx="1.3" fill="#141414"/>
      <rect x="109" y="251" width="2.2" height="9.8" fill="#050505"/>
      <rect x="112.2" y="253" width="5.6" height="1.2" fill="#3a3a3a"/>
      <path d="M64.6 217 L66.4 214.2 L68.8 213 L70 210.8 L71.6 212.9 L73 212 L74.6 211.1 L75.6 213 L78 212.5 L79.6 211 L80.6 213.3 L104.6 213.5 Q106.4 213.6 106.4 215.6 L106.3 250 L105 252.6 L78.4 252.8 L74.4 255 L66 255.2 L64.8 254 Z" fill="#222"/>
      <path d="M66 217 L80 214.4 L80.4 218.2 L66.2 221 Z" fill="#4a2530" fill-opacity="0.8"/>
      <path d="M80.6 213.5 H105.8 V218 H80.6 Z" fill="#161616"/>
      <rect x="88.4" y="214" width="14.6" height="3.4" rx="1.7" fill="#0a0a0a" stroke="#4c4c4c" stroke-width="0.7"/>
      <path d="M97.4 218 L98 250" stroke="#111" stroke-width="1" fill="none"/>
      <path d="M103.6 222 H106.4 V237 H103.6 Z" fill="#c9c9c9"/>
      <path d="M67 224.5 V254.6" stroke="#0a0a0a" stroke-width="1" fill="none"/>
      <path d="M73.6 251 Q79 237 94 232.4" stroke="#333" stroke-width="0.8" fill="none"/>
    </g>
  </g>
</defs>
<g transform="translate(0 0)">
<use href="#unit"/>
<path class="dim" d="M176 35.5 H333 M176.5 28 V44 M332.5 28 V44"/>
<path class="dim" d="M96 114.5 H331 M96.5 109 V120 M330.5 109 V120"/>
<path class="dim" d="M342.5 46 V106 M336 46.5 H349 M336 105.5 H349"/>
<path class="dim" d="M59 202.5 H107 M59.5 197 V208 M106.5 197 V208"/>
<path class="dim" d="M44.5 210 V304 M40 210.5 H50 M40 303.5 H50"/>
<text x="212.90" y="28.00" font-size="21.9"><tspan textLength="33.47" lengthAdjust="spacingAndGlyphs">185</tspan><tspan textLength="37.31" lengthAdjust="spacingAndGlyphs">mm</tspan></text>
<text x="181.30" y="137.00" font-size="21.9"><tspan textLength="33.47" lengthAdjust="spacingAndGlyphs">280</tspan><tspan textLength="37.73" lengthAdjust="spacingAndGlyphs">mm</tspan></text>
<text transform="translate(355.00 45.40) rotate(90)" font-size="21.9"><tspan textLength="22.32" lengthAdjust="spacingAndGlyphs">65</tspan><tspan textLength="36.74" lengthAdjust="spacingAndGlyphs">mm</tspan></text>
<text x="55.30" y="188.00" font-size="21.9"><tspan textLength="22.32" lengthAdjust="spacingAndGlyphs">65</tspan><tspan textLength="35.70" lengthAdjust="spacingAndGlyphs">mm</tspan></text>
<text transform="translate(24.00 222.50) rotate(90)" font-size="21.9"><tspan textLength="33.47" lengthAdjust="spacingAndGlyphs">110</tspan><tspan textLength="36.27" lengthAdjust="spacingAndGlyphs">mm</tspan></text>
</g>
<g transform="translate(196 127)">
<use href="#unit"/>
<path class="dim" d="M176 35.5 H333 M176.5 28 V44 M332.5 28 V44"/>
<path class="dim" d="M96 114.5 H331 M96.5 109 V120 M330.5 109 V120"/>
<path class="dim" d="M342.5 46 V106 M336 46.5 H349 M336 105.5 H349"/>
<path class="dim" d="M59 202.5 H107 M59.5 197 V208 M106.5 197 V208"/>
<path class="dim" d="M44.5 210 V304 M40 210.5 H50 M40 303.5 H50"/>
<text x="212.90" y="28.00" font-size="21.9"><tspan textLength="33.47" lengthAdjust="spacingAndGlyphs">180</tspan><tspan textLength="37.31" lengthAdjust="spacingAndGlyphs">mm</tspan></text>
<text x="161.60" y="137.00" font-size="21.9"><tspan textLength="73.63" lengthAdjust="spacingAndGlyphs">250-380</tspan><tspan textLength="37.46" lengthAdjust="spacingAndGlyphs">mm</tspan></text>
<text transform="translate(355.00 45.35) rotate(90)" font-size="21.9"><tspan textLength="22.32" lengthAdjust="spacingAndGlyphs">75</tspan><tspan textLength="36.80" lengthAdjust="spacingAndGlyphs">mm</tspan></text>
<text x="55.30" y="188.00" font-size="21.9"><tspan textLength="22.32" lengthAdjust="spacingAndGlyphs">60</tspan><tspan textLength="35.70" lengthAdjust="spacingAndGlyphs">mm</tspan></text>
<text transform="translate(24.00 222.50) rotate(90)" font-size="21.9"><tspan textLength="33.47" lengthAdjust="spacingAndGlyphs">130</tspan><tspan textLength="36.27" lengthAdjust="spacingAndGlyphs">mm</tspan></text>
</g>
<g transform="translate(412 249)">
<use href="#unit"/>
<path class="dim" d="M176 35.5 H333 M176.5 28 V44 M332.5 28 V44"/>
<path class="dim" d="M96 114.5 H331 M96.5 109 V120 M330.5 109 V120"/>
<path class="dim" d="M342.5 46 V106 M336 46.5 H349 M336 105.5 H349"/>
<path class="dim" d="M59 202.5 H107 M59.5 197 V208 M106.5 197 V208"/>
<path class="dim" d="M44.5 210 V304 M40 210.5 H50 M40 303.5 H50"/>
<text x="212.90" y="28.00" font-size="21.9"><tspan textLength="33.47" lengthAdjust="spacingAndGlyphs">195</tspan><tspan textLength="37.31" lengthAdjust="spacingAndGlyphs">mm</tspan></text>
<text x="161.60" y="137.00" font-size="21.9"><tspan textLength="73.63" lengthAdjust="spacingAndGlyphs">295-395</tspan><tspan textLength="37.46" lengthAdjust="spacingAndGlyphs">mm</tspan></text>
<text transform="translate(355.00 45.55) rotate(90)" font-size="21.9"><tspan textLength="22.32" lengthAdjust="spacingAndGlyphs">80</tspan><tspan textLength="36.59" lengthAdjust="spacingAndGlyphs">mm</tspan></text>
<text x="55.30" y="188.00" font-size="21.9"><tspan textLength="22.32" lengthAdjust="spacingAndGlyphs">60</tspan><tspan textLength="35.70" lengthAdjust="spacingAndGlyphs">mm</tspan></text>
<text transform="translate(24.00 222.50) rotate(90)" font-size="21.9"><tspan textLength="33.47" lengthAdjust="spacingAndGlyphs">130</tspan><tspan textLength="36.27" lengthAdjust="spacingAndGlyphs">mm</tspan></text>
</g>
<g transform="translate(616 375)">
<use href="#unit"/>
<path class="dim" d="M176 35.5 H333 M176.5 28 V44 M332.5 28 V44"/>
<path class="dim" d="M96 114.5 H331 M96.5 109 V120 M330.5 109 V120"/>
<path class="dim" d="M342.5 46 V106 M336 46.5 H349 M336 105.5 H349"/>
<path class="dim" d="M59 202.5 H107 M59.5 197 V208 M106.5 197 V208"/>
<path class="dim" d="M44.5 210 V304 M40 210.5 H50 M40 303.5 H50"/>
<text x="213.40" y="28.00" font-size="21.9"><tspan textLength="33.47" lengthAdjust="spacingAndGlyphs">225</tspan><tspan textLength="36.79" lengthAdjust="spacingAndGlyphs">mm</tspan></text>
<text x="161.85" y="137.00" font-size="21.9"><tspan textLength="73.63" lengthAdjust="spacingAndGlyphs">310-425</tspan><tspan textLength="37.20" lengthAdjust="spacingAndGlyphs">mm</tspan></text>
<text transform="translate(355.00 45.55) rotate(90)" font-size="21.9"><tspan textLength="22.32" lengthAdjust="spacingAndGlyphs">80</tspan><tspan textLength="36.59" lengthAdjust="spacingAndGlyphs">mm</tspan></text>
<text x="55.30" y="188.00" font-size="21.9"><tspan textLength="22.32" lengthAdjust="spacingAndGlyphs">60</tspan><tspan textLength="35.70" lengthAdjust="spacingAndGlyphs">mm</tspan></text>
<text transform="translate(24.00 222.50) rotate(90)" font-size="21.9"><tspan textLength="33.47" lengthAdjust="spacingAndGlyphs">130</tspan><tspan textLength="36.27" lengthAdjust="spacingAndGlyphs">mm</tspan></text>
</g>
</svg>

<div class="tag" style="left:44.2px;top:343.2px"><span style="transform:translate(-0.86px,1.57px) scaleX(0.8814)">RS-088A</span></div>
<div class="tag" style="left:271.2px;top:469.3px"><span style="transform:translate(-0.86px,2.17px) scaleX(0.8814)">RS-188A</span></div>
<div class="tag" style="left:486.0px;top:600.0px"><span style="transform:translate(-0.86px,1.37px) scaleX(0.8764)">RS-288A</span></div>
<div class="tag" style="left:868.0px;top:646.1px"><span style="transform:translate(-0.74px,1.77px) scaleX(0.8818)">RS-388A</span></div>

<table class="spec">
<colgroup><col style="width:233px"><col style="width:234px"><col style="width:233px"><col style="width:100px"><col style="width:200px"></colgroup>
<tr><th><span style="transform:translate(-0.02px,0.69px) scaleX(0.8941)">MODEL</span></th><th><span style="transform:translate(0.96px,0.80px) scaleX(0.8955)">VOLTAGE</span></th><th><span style="transform:translate(0.33px,0.69px) scaleX(0.8711)">POWER</span></th><th><span style="transform:translate(-0.97px,1.02px) scaleX(0.8815)">HMAX</span></th><th><span style="transform:translate(-0.47px,0.91px) scaleX(0.8708)">FMaX</span></th></tr>
<tr class="alt"><td><span style="transform:translate(-0.95px,0.02px) scaleX(0.8843)">RS-088A</span></td><td><span style="transform:translate(0.86px,1.05px) scaleX(0.9526)">220v-240v/50Hz</span></td><td><span style="transform:translate(-0.91px,2.00px) scaleX(0.8900)">10W</span></td><td><span style="transform:translate(0.17px,2.75px) scaleX(0.9676)">0.7m</span></td><td><span style="transform:translate(0.05px,0.00px) scaleX(0.9708)">650L/H</span></td></tr>
<tr><td><span style="transform:translate(-1.07px,1.00px) scaleX(0.8801)">RS-188A</span></td><td><span style="transform:translate(1.07px,1.46px) scaleX(0.9576)">220v-240v/50Hz</span></td><td><span style="transform:translate(-1.00px,0.88px) scaleX(0.8783)">12W</span></td><td><span style="transform:translate(0.23px,3.21px) scaleX(0.9655)">0.8m</span></td><td><span style="transform:translate(0.32px,0.98px) scaleX(0.9584)">800L/H</span></td></tr>
<tr class="alt"><td><span style="transform:translate(-1.14px,0.75px) scaleX(0.8800)">RS-288A</span></td><td><span style="transform:translate(1.21px,0.75px) scaleX(0.9587)">220v-240v/50Hz</span></td><td><span style="transform:translate(-1.10px,2.50px) scaleX(0.8794)">15W</span></td><td><span style="transform:translate(-0.19px,2.75px) scaleX(0.9709)">1.0m</span></td><td><span style="transform:translate(-0.09px,2.00px) scaleX(0.9620)">1200L/H</span></td></tr>
<tr><td><span style="transform:translate(-1.02px,1.00px) scaleX(0.8807)">RS-388A</span></td><td><span style="transform:translate(1.18px,1.45px) scaleX(0.9587)">220v-240v/50Hz</span></td><td><span style="transform:translate(-0.94px,1.49px) scaleX(0.8761)">25W</span></td><td><span style="transform:translate(-0.03px,2.32px) scaleX(0.9729)">1.2m</span></td><td><span style="transform:translate(0.02px,0.91px) scaleX(0.9607)">1750L/H</span></td></tr>
</table>

</body>
</html>
